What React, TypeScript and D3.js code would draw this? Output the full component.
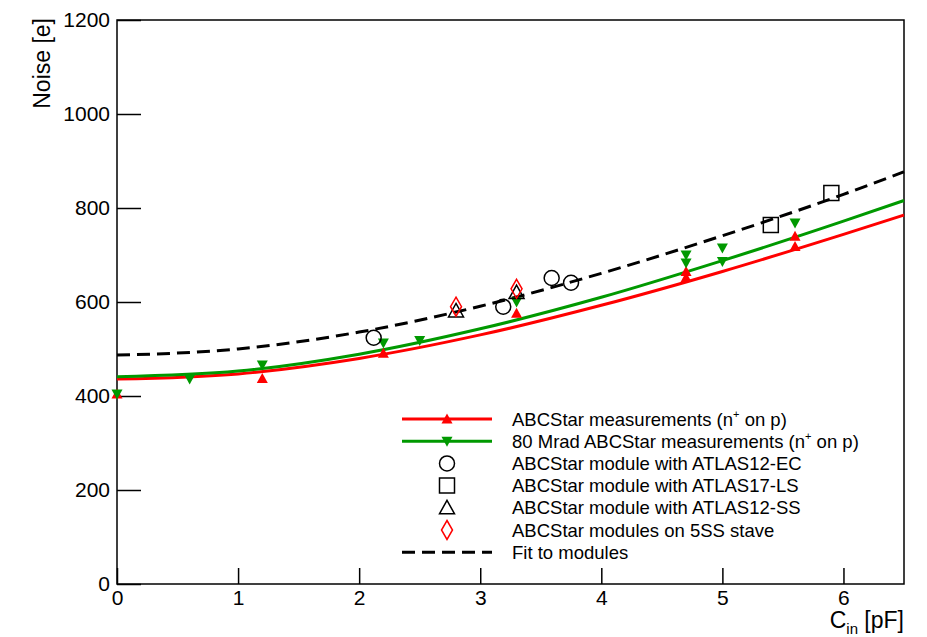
import React, { useEffect, useRef } from 'react';
import * as d3 from 'd3';

// ABCStar measurements (n+ on p)
const cinRed = [0, 1.2, 2.2, 3.3, 4.7, 4.7, 5.6, 5.6];
const noiseRed = [404, 437, 491, 576, 665, 652, 740, 718];

// 80 Mrad ABCStar measurements
const cinGreen = [0, 0.6, 1.2, 2.2, 2.5, 3.3, 4.7, 4.7, 5.0, 5.0, 5.6];
const noiseGreen = [404, 436, 466, 513, 518, 600, 700, 683, 715, 686, 768];

// modules
const cinEC = [2.12, 3.19, 3.59, 3.75];
const noiseEC = [524, 590, 651, 641];
const cinLS = [5.4, 5.9];
const noiseLS = [764, 832];
const cinSS = [2.8, 3.3];
const noiseSS = [581, 620];
const cinStave = [2.8, 3.3];
const noiseStave = [590, 628];

// fit curves
const fitCin = [0, 1, 2, 3, 4, 5, 6, 6.5];
const fitRed = [436, 447, 480, 530, 593, 665, 744, 785];
const fitGreen = [441, 453, 489, 543, 610, 688, 772, 816];
const fitModules = [487, 500, 536, 591, 661, 741, 829, 877];

const yMajor = [0, 200, 400, 600, 800, 1000, 1200];
const xMajor = [0, 1, 2, 3, 4, 5, 6];

const legendLabels = [
  'ABCStar measurements (n',
  '80 Mrad ABCStar measurements (n',
  'ABCStar module with ATLAS12-EC',
  'ABCStar module with ATLAS17-LS',
  'ABCStar module with ATLAS12-SS',
  'ABCStar modules on 5SS stave',
  'Fit to modules',
];

const RED = '#ff0000';
const GREEN = '#009900';
const FONT = '"Liberation Sans", Arial, Helvetica, sans-serif';

const triUp = 'M0,-5.5L5.5,4.5L-5.5,4.5Z';
const triDown = 'M0,5.5L5.5,-4.5L-5.5,-4.5Z';
const triOpen = 'M0,-7.5L7.5,6L-7.5,6Z';
const diamond = 'M0,-9.5L5.5,0L0,9.5L-5.5,0Z';
const square = 'M-7.5,-7.5H7.5V7.5H-7.5Z';

export default function App() {
  const ref = useRef<SVGSVGElement>(null);

  useEffect(() => {
    const svg = d3.select(ref.current);
    svg.selectAll('*').remove();

    const x = d3.scaleLinear().domain([0, 6.5]).range([117, 904]);
    const y = d3.scaleLinear().domain([0, 1200]).range([584, 20]);

    const g = svg.append('g').style('font-family', FONT);

    // frame
    g.append('rect')
      .attr('x', 117).attr('y', 20)
      .attr('width', 904 - 117).attr('height', 584 - 20)
      .attr('fill', 'none').attr('stroke', '#000').attr('stroke-width', 1.5);

    // y axis
    const yAx = g.append('g').attr('transform', 'translate(117,0)');
    yAx.call(d3.axisLeft(y).tickValues(d3.range(0, 1201, 50)).tickSize(-12).tickSizeOuter(0).tickFormat(() => ''));
    yAx.call(d3.axisLeft(y).tickValues(yMajor).tickSize(-24).tickSizeOuter(0).tickPadding(7).tickFormat(d3.format('d')));
    yAx.selectAll('.domain').remove();
    yAx.selectAll('line').attr('stroke', '#000').attr('stroke-width', 1.5);
    yAx.selectAll('text').style('font-family', FONT).style('font-size', '21px').attr('fill', '#000');

    // x axis
    const xAx = g.append('g').attr('transform', 'translate(0,584)');
    xAx.call(d3.axisBottom(x).tickValues(d3.range(0, 6.45, 0.2)).tickSize(-8).tickSizeOuter(0).tickFormat(() => ''));
    xAx.call(d3.axisBottom(x).tickValues(xMajor).tickSize(-16).tickSizeOuter(0).tickPadding(6).tickFormat(d3.format('d')));
    xAx.selectAll('.domain').remove();
    xAx.selectAll('line').attr('stroke', '#000').attr('stroke-width', 1.5);
    xAx.selectAll('text').style('font-family', FONT).style('font-size', '21px').attr('fill', '#000');

    // axis titles
    g.append('text')
      .attr('transform', 'translate(50,18) rotate(-90)')
      .attr('text-anchor', 'end')
      .style('font-size', '23px')
      .text('Noise [e]');

    const xt = g.append('text')
      .attr('x', 904).attr('y', 628)
      .attr('text-anchor', 'end')
      .style('font-size', '23px');
    xt.append('tspan').text('C');
    xt.append('tspan').attr('dy', 6).style('font-size', '15px').text('in');
    xt.append('tspan').attr('dy', -6).text(' [pF]');

    // fit curves
    const curve = (vals: number[]) =>
      d3.line<number>()
        .x((d, i) => x(fitCin[i]))
        .y(d => y(d))
        .curve(d3.curveMonotoneX)(vals);

    g.append('path').attr('d', curve(fitRed)).attr('fill', 'none')
      .attr('stroke', RED).attr('stroke-width', 3);
    g.append('path').attr('d', curve(fitGreen)).attr('fill', 'none')
      .attr('stroke', GREEN).attr('stroke-width', 3);
    g.append('path').attr('d', curve(fitModules)).attr('fill', 'none')
      .attr('stroke', '#000').attr('stroke-width', 3).attr('stroke-dasharray', '13,7');

    const markers = (xs: number[], ys: number[], d: string, fill: string, stroke: string) => {
      g.append('g').selectAll('path')
        .data(xs)
        .enter()
        .append('path')
        .attr('d', d)
        .attr('transform', (v, i) => `translate(${x(v)},${y(ys[i])})`)
        .attr('fill', fill)
        .attr('stroke', stroke)
        .attr('stroke-width', 1.5);
    };

    markers(cinRed, noiseRed, triUp, RED, 'none');
    markers(cinGreen, noiseGreen, triDown, GREEN, 'none');
    markers(cinSS, noiseSS, triOpen, 'none', '#000');
    markers(cinStave, noiseStave, diamond, 'none', RED);
    markers(cinLS, noiseLS, square, 'none', '#000');

    g.append('g').selectAll('circle')
      .data(cinEC)
      .enter()
      .append('circle')
      .attr('cx', d => x(d))
      .attr('cy', (d, i) => y(noiseEC[i]))
      .attr('r', 7.5)
      .attr('fill', 'none')
      .attr('stroke', '#000')
      .attr('stroke-width', 1.5);

    // legend
    const leg = g.append('g');
    const rowY = (i: number) => 419 + i * 22.2;
    const lx0 = 402, lx1 = 492, lm = 447, tx = 512;

    legendLabels.forEach((label, i) => {
      const cy = rowY(i);
      const t = leg.append('text')
        .attr('x', tx).attr('y', cy + 6.5)
        .style('font-size', '18.5px')
        .text(label);
      if (i < 2) {
        t.append('tspan').attr('dy', -8).style('font-size', '11px').text('+');
        t.append('tspan').attr('dy', 8).text(' on p)');
      }
    });

    leg.append('line').attr('x1', lx0).attr('x2', lx1).attr('y1', rowY(0)).attr('y2', rowY(0))
      .attr('stroke', RED).attr('stroke-width', 3);
    leg.append('path').attr('d', triUp).attr('transform', `translate(${lm},${rowY(0)})`).attr('fill', RED);
    leg.append('line').attr('x1', lx0).attr('x2', lx1).attr('y1', rowY(1)).attr('y2', rowY(1))
      .attr('stroke', GREEN).attr('stroke-width', 3);
    leg.append('path').attr('d', triDown).attr('transform', `translate(${lm},${rowY(1)})`).attr('fill', GREEN);
    leg.append('circle').attr('cx', lm).attr('cy', rowY(2)).attr('r', 7.5)
      .attr('fill', 'none').attr('stroke', '#000').attr('stroke-width', 1.5);
    leg.append('path').attr('d', square).attr('transform', `translate(${lm},${rowY(3)})`)
      .attr('fill', 'none').attr('stroke', '#000').attr('stroke-width', 1.5);
    leg.append('path').attr('d', triOpen).attr('transform', `translate(${lm},${rowY(4)})`)
      .attr('fill', 'none').attr('stroke', '#000').attr('stroke-width', 1.5);
    leg.append('path').attr('d', diamond).attr('transform', `translate(${lm},${rowY(5)})`)
      .attr('fill', 'none').attr('stroke', RED).attr('stroke-width', 1.5);
    leg.append('line').attr('x1', lx0).attr('x2', lx1).attr('y1', rowY(6)).attr('y2', rowY(6))
      .attr('stroke', '#000').attr('stroke-width', 3).attr('stroke-dasharray', '13,7');
  }, []);

  return (
    <svg
      ref={ref}
      width={927}
      height={637}
      style={{ position: 'absolute', left: 0, top: 0, background: '#fff' }}
    />
  );
}
